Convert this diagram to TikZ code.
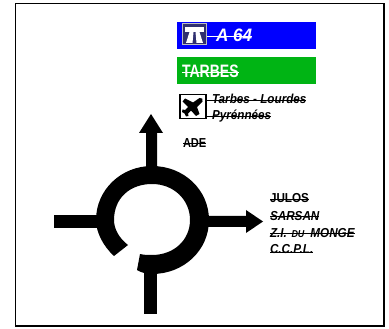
\documentclass[tikz,border=0pt]{standalone}
\usepackage{fontspec}
\setmainfont{Liberation Sans}
\definecolor{signblue}{RGB}{0,0,255}
\definecolor{signgreen}{RGB}{0,180,20}
\definecolor{icondark}{RGB}{48,48,112}
\newsavebox{\strkbox}
% strike-through printed across the text: #1 extra to the left, #2 height, #3 text
\newcommand{\strk}[3][0pt]{\sbox{\strkbox}{#3}\leavevmode\rlap{\hspace{-#1}\raisebox{#2}{\rule{\dimexpr\wd\strkbox+#1\relax}{0.8pt}}}\usebox{\strkbox}}
\newcommand{\nar}[2]{\scalebox{#1}[1]{#2}}
\tikzset{
  sign/.style={inner sep=0pt,outer sep=0pt,anchor=base west},
  bold label/.style={sign,font=\fontsize{13}{14}\selectfont\bfseries},
  ital label/.style={sign,font=\fontsize{13}{14}\selectfont\bfseries\itshape},
  road/.style={fill=black,draw=none},
}
\begin{document}
\begin{tikzpicture}[x=1pt,y=-1pt]
\useasboundingbox (0,0) rectangle (389,329);
\draw[line width=1.6pt] (15.5,3.5) rectangle (384,326);
% panels
\fill[signblue] (177,22) rectangle (316,49);
\fill[signgreen] (177,57) rectangle (316,84);
% motorway icon
\filldraw[fill=icondark,draw=white!75!black,line width=1pt] (182.5,23.5) rectangle (206.5,45);
\fill[white] (185,27.5) rectangle (204,32);
\fill[white] (189.5,32) -- (193.5,32) -- (192.5,43) -- (186,43) -- cycle;
\fill[white] (195.5,32) -- (199.5,32) -- (203,43) -- (196.5,43) -- cycle;
\node[sign,text=white,font=\fontsize{18}{20}\selectfont\bfseries\itshape] (a64) at (216,42) {\nar{0.95}{\strk[9pt]{5pt}{A 64}}};
\node[sign,text=white,font=\fontsize{18}{20}\selectfont\bfseries] (tarbes) at (182,78) {\nar{0.78}{\strk{5.5pt}{TARBES}}};
% airplane icon
\draw[line width=1.4pt,fill=white] (180,94.5) rectangle (206,118.5);
\fill[black] (199.5,98) .. controls (202,97.5) and (203.5,99) .. (202.5,101.5) -- (197,107) -- (199.5,114) -- (196,116) -- (191,110.5) -- (188,113.5) -- (188.5,116) -- (186,116.5) -- (184.5,113.5) -- (182,112) -- (182.5,109.5) -- (185,110) -- (188,107) -- (182.5,101.5) -- (185,98.5) -- (193,102.5) -- cycle;
\node[ital label] (ap1) at (212,104) {\nar{0.9}{\strk[6pt]{3.5pt}{Tarbes - Lourdes}}};
\node[ital label] (ap2) at (212,120) {\nar{0.9}{\strk[6pt]{3.5pt}{Pyrénnées}}};
\node[bold label] (ade) at (183,148) {\nar{0.85}{\strk{4pt}{ADE}}};
% roads
\fill[road] (146,168) -- (146,133) -- (139,133) -- (151,114) -- (163,133) -- (157,133) -- (157,168) -- cycle;
\fill[road] (208,216) -- (246,216) -- (246,210) -- (263,221.5) -- (246,233) -- (246,227) -- (208,227) -- cycle;
\fill[road] (54,215) rectangle (98,228);
\fill[road] (144,268) rectangle (157,314);
% ring
\fill[road] (128,245) .. controls (119,238) and (114,229) .. (114,220)
  .. controls (114,198) and (130,184) .. (152,184)
  .. controls (174,184) and (190,200) .. (190,220)
  .. controls (190,240) and (174,255) .. (152,255)
  .. controls (148,255) and (144,255) .. (140,254)
  -- (137,270)
  .. controls (142,273) and (147,274) .. (152,274)
  .. controls (184,274) and (209,250) .. (209,220)
  .. controls (209,190) and (184,166) .. (152,166)
  .. controls (121,166) and (96,190) .. (96,220)
  .. controls (96,232) and (103,246) .. (114,256)
  -- cycle;
% destinations
\node[bold label] (j) at (270,203) {\nar{0.9}{\strk{3.5pt}{JULOS}}};
\node[ital label] (s) at (270,220) {\nar{0.9}{\strk{3.5pt}{SARSAN}}};
\node[ital label] (z) at (270,237) {\nar{0.9}{\strk{3.5pt}{Z.I.\hspace{1.5pt} {\fontsize{10}{10}\selectfont DU}\hspace{3pt} MONGE}}};
\node[ital label] (c) at (270,254) {\nar{0.9}{\strk{1pt}{C.C.P.L.}}};
\end{tikzpicture}
\end{document}
